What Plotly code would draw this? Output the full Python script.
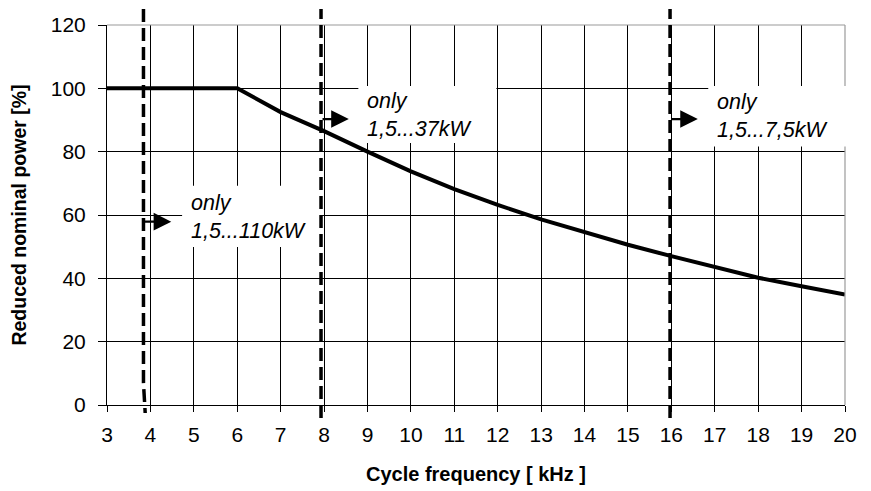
import plotly.graph_objects as go

# Derating curve: reduced nominal power vs. cycle (switching) frequency
freq_khz = [3, 4, 5, 6, 7, 8, 9, 10, 11, 12, 13, 14, 15, 16, 17, 18, 19, 20]
power_pct = [100, 100, 100, 100, 92.5, 86.5, 80, 73.8, 68.2, 63.2, 58.6, 54.5, 50.6, 47.0, 43.6, 40.2, 37.5, 34.9]

x_ticks = list(range(3, 21))
y_ticks = [0, 20, 40, 60, 80, 100, 120]

# Frequency limits for the power classes
limit_freqs = [3.84, 7.93, 15.97]
limit_labels = ["only<br>1,5...110kW", "only<br>1,5...37kW", "only<br>1,5...7,5kW"]

X_RANGE = (3, 20)
Y_RANGE = (0, 120)

FONT = "Arial, Liberation Sans, sans-serif"


def px_x(x):
    return (x - X_RANGE[0]) / (X_RANGE[1] - X_RANGE[0])


def px_y(y):
    return (y - Y_RANGE[0]) / (Y_RANGE[1] - Y_RANGE[0])


fig = go.Figure()
fig.add_trace(go.Scatter(
    x=freq_khz, y=power_pct, mode="lines",
    line=dict(color="black", width=4), showlegend=False, hoverinfo="skip",
))

shapes = []
# light grey frame on top and right
shapes.append(dict(type="line", xref="paper", yref="paper", x0=0, x1=1, y0=1, y1=1,
                   line=dict(color="#9a9a9a", width=1.2), layer="above"))
shapes.append(dict(type="line", xref="paper", yref="paper", x0=1, x1=1, y0=0, y1=1,
                   line=dict(color="#9a9a9a", width=1.2), layer="above"))

# white label backgrounds (x0, x1, y0, y1 in data units)
label_boxes = [
    (4.73, 7.95, 49.9, 69.2),
    (8.79, 11.97, 82.7, 100.7),
    (16.85, 20.06, 81.6, 100.7),
]
for bx0, bx1, by0, by1 in label_boxes:
    shapes.append(dict(type="rect", xref="paper", yref="paper",
                       x0=px_x(bx0), x1=px_x(bx1), y0=px_y(by0), y1=px_y(by1),
                       fillcolor="white", line=dict(width=0), layer="above"))

# dashed frequency limits, running past the plot frame
dash_top = 1.042
dash_bot = -0.034
f0 = limit_freqs[0]
shapes.append(dict(type="path", xref="x", yref="paper",
                   path=f"M {f0},{dash_top} L {f0},0.058 L {f0 + 0.04},{-0.021}",
                   line=dict(color="black", width=3.5, dash="13px,6px"), layer="above"))
for f in limit_freqs[1:]:
    shapes.append(dict(type="line", xref="x", yref="paper", x0=f, x1=f,
                       y0=dash_bot, y1=dash_top,
                       line=dict(color="black", width=3.5, dash="13px,6px"), layer="above"))

annotations = []
# arrows pointing to the valid side of each limit
arrow_y = [57.9, 90.3, 90.3]
arrow_len = 0.64
for f, ay in zip(limit_freqs, arrow_y):
    annotations.append(dict(
        x=f + arrow_len, y=ay, ax=f, ay=ay, xref="x", yref="y", axref="x", ayref="y",
        text="", showarrow=True, arrowhead=2, arrowsize=1.6, arrowwidth=2.2,
        arrowcolor="black", standoff=0, startstandoff=0,
    ))

# label texts
text_pos = [(4.9, 59.3), (8.95, 91.7), (17.01, 91.4)]
for (tx, ty), txt in zip(text_pos, limit_labels):
    annotations.append(dict(
        x=tx, y=ty, xref="x", yref="y", text=f"<i>{txt}</i>", showarrow=False,
        xanchor="left", yanchor="middle", align="left",
        font=dict(family=FONT, size=21.5, color="black"),
    ))

fig.update_layout(
    width=871, height=491,
    margin=dict(l=107, r=26, t=25, b=86, autoexpand=False),
    paper_bgcolor="white", plot_bgcolor="white",
    shapes=shapes, annotations=annotations,
    font=dict(family=FONT, color="black"),
    xaxis=dict(
        range=list(X_RANGE), tickvals=x_ticks, ticktext=[str(v) for v in x_ticks],
        showgrid=True, gridcolor="black", gridwidth=1, zeroline=False,
        showline=True, linecolor="black", linewidth=1, automargin=False,
        ticks="outside", ticklen=6, tickcolor="black", tickwidth=1,
        tickfont=dict(family=FONT, size=21, color="black"), ticklabelstandoff=5,
        title=dict(text="<b>Cycle frequency [ kHz ]</b>",
                   font=dict(family=FONT, size=20, color="black"), standoff=21),
    ),
    yaxis=dict(
        range=list(Y_RANGE), tickvals=y_ticks, ticktext=[str(v) for v in y_ticks],
        showgrid=True, gridcolor="black", gridwidth=1, zeroline=False,
        showline=True, linecolor="black", linewidth=1, automargin=False,
        ticks="outside", ticklen=8, tickcolor="black", tickwidth=1,
        tickfont=dict(family=FONT, size=21, color="black"), ticklabelstandoff=8,
        title=dict(text="<b>Reduced nominal power [%]</b>",
                   font=dict(family=FONT, size=19.5, color="black"), standoff=18),
    ),
)

fig.write_html("out.html")
